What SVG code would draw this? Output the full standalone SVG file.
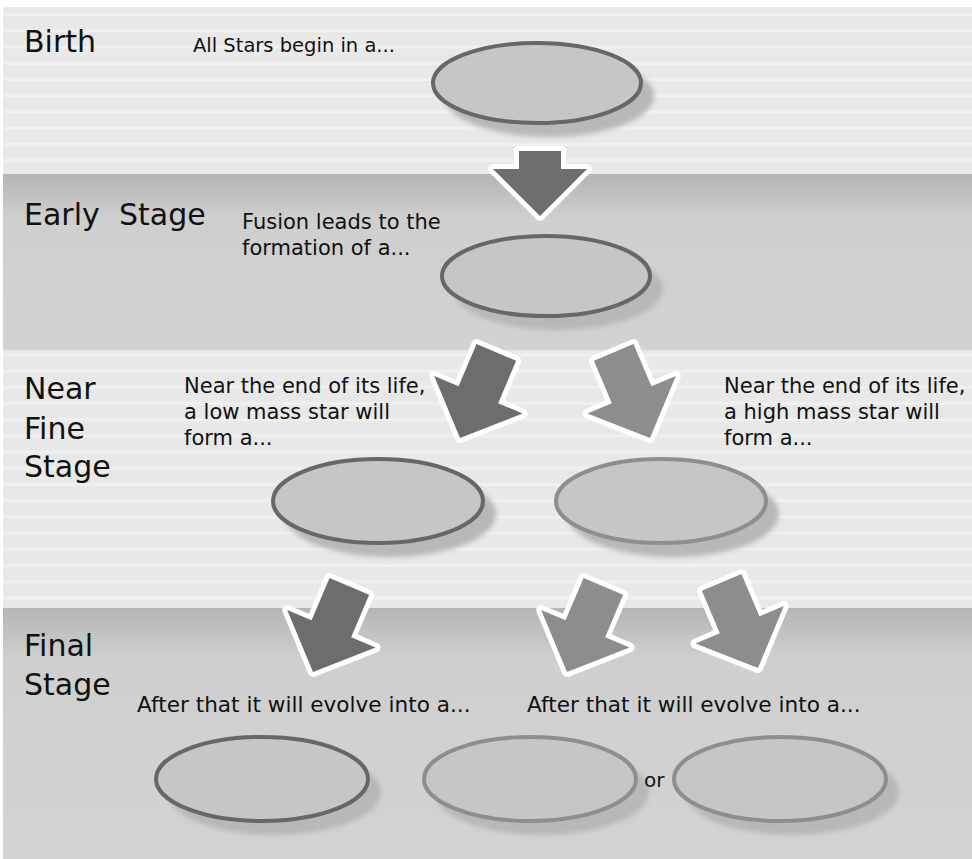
<svg xmlns="http://www.w3.org/2000/svg" xmlns:xlink="http://www.w3.org/1999/xlink" width="972" height="859" viewBox="0 0 972 859">
  <style>
    .head { font-family: "DejaVu Sans", Verdana, sans-serif; font-size: 30px; fill: #111; }
    .lbl { font-family: "DejaVu Sans", Verdana, sans-serif; font-size: 21px; fill: #111; }
    .node { fill: #c6c6c6; stroke-width: 4; }
    .dark { stroke: #676767; }
    .light { stroke: #8e8e8e; }
    .shadow { fill: #b8b8b8; filter: url(#blur); }
    .arr { stroke: #ffffff; stroke-width: 10; stroke-linejoin: round; paint-order: stroke fill; }
    .adark { fill: #6d6d6d; }
    .alight { fill: #8d8d8d; }
  </style>
  <defs>
    <pattern id="stripes" patternUnits="userSpaceOnUse" x="0" y="0" width="20" height="16.2">
      <rect width="20" height="16.2" fill="#e8e8e8"/>
      <rect y="13" width="20" height="3.5" fill="#f0f0f0"/>
    </pattern>
    <linearGradient id="g2" x1="0" y1="0" x2="0" y2="1" gradientUnits="objectBoundingBox">
      <stop offset="0" stop-color="#b5b5b5"/>
      <stop offset="0.25" stop-color="#cfcfcf"/>
      <stop offset="1" stop-color="#d2d2d2"/>
    </linearGradient>
    <linearGradient id="g4" x1="0" y1="0" x2="0" y2="1" gradientUnits="objectBoundingBox">
      <stop offset="0" stop-color="#b5b5b5"/>
      <stop offset="0.2" stop-color="#cfcfcf"/>
      <stop offset="1" stop-color="#d3d3d3"/>
    </linearGradient>
    <filter id="blur" x="-20%" y="-20%" width="140%" height="140%">
      <feGaussianBlur stdDeviation="2.5"/>
    </filter>
    <path id="downArrow" d="M0,0 L-47,-47 L-21,-47 L-21,-65 L21,-65 L21,-47 L47,-47 Z"/>
    <path id="diagArrow" d="M0,0 L-48,-47 L-21.5,-47 L-21.5,-93 L21.5,-93 L21.5,-47 L48,-47 Z"/>
  </defs>

  <!-- background bands -->
  <rect width="972" height="859" fill="#ffffff"/>
  <rect x="3" y="7" width="969" height="167" fill="url(#stripes)"/>
  <rect x="3" y="174" width="969" height="176" fill="url(#g2)"/>
  <rect x="3" y="350" width="969" height="258" fill="url(#stripes)"/>
  <rect x="3" y="608" width="969" height="251" fill="url(#g4)"/>

  <!-- stage headings -->
  <g id="stage-birth"><text class="head" x="24" y="52">Birth</text></g>
  <g id="stage-early"><text class="head" x="24" y="225">Early<tspan x="119">Stage</tspan></text></g>
  <g id="stage-near">
    <text class="head" x="24" y="399">Near</text>
    <text class="head" x="24" y="439">Fine</text>
    <text class="head" x="24" y="477">Stage</text>
  </g>
  <g id="stage-final">
    <text class="head" x="24" y="656">Final</text>
    <text class="head" x="24" y="695">Stage</text>
  </g>

  <!-- connectors -->
  <g id="connectors">
    <use xlink:href="#downArrow" class="arr adark" transform="translate(540,216)"/>
    <use xlink:href="#diagArrow" class="arr adark" transform="translate(460,438) rotate(23)"/>
    <use xlink:href="#diagArrow" class="arr alight" transform="translate(650,438) rotate(-23)"/>
    <use xlink:href="#diagArrow" class="arr adark" transform="translate(313,672) rotate(23)"/>
    <use xlink:href="#diagArrow" class="arr alight" transform="translate(567,672) rotate(23)"/>
    <use xlink:href="#diagArrow" class="arr alight" transform="translate(758,668) rotate(-23)"/>
  </g>

  <!-- nodes -->
  <g id="node-birth">
    <text class="lbl" x="193" y="52" style="font-size:19.5px">All Stars begin in a...</text>
    <ellipse class="shadow" cx="549" cy="96" rx="105" ry="41"/>
    <ellipse class="node dark" cx="537" cy="83" rx="104" ry="40"/>
  </g>
  <g id="node-early">
    <text class="lbl" x="242" y="229">Fusion leads to the</text>
    <text class="lbl" x="242" y="255">formation of a...</text>
    <ellipse class="shadow" cx="558" cy="289" rx="105" ry="41"/>
    <ellipse class="node dark" cx="546" cy="276" rx="104" ry="40"/>
  </g>
  <g id="node-low-mass">
    <text class="lbl" x="184" y="393">Near the end of its life,</text>
    <text class="lbl" x="184" y="419">a low mass star will</text>
    <text class="lbl" x="184" y="445">form a...</text>
    <ellipse class="shadow" cx="390" cy="514" rx="106" ry="43"/>
    <ellipse class="node dark" cx="378" cy="501" rx="105" ry="42"/>
  </g>
  <g id="node-high-mass">
    <text class="lbl" x="724" y="393">Near the end of its life,</text>
    <text class="lbl" x="724" y="419">a high mass star will</text>
    <text class="lbl" x="724" y="445">form a...</text>
    <ellipse class="shadow" cx="673" cy="514" rx="106" ry="43"/>
    <ellipse class="node light" cx="661" cy="501" rx="105" ry="42"/>
  </g>
  <g id="node-final-low">
    <text class="lbl" x="137" y="712" style="font-size:21.6px">After that it will evolve into a...</text>
    <ellipse class="shadow" cx="274" cy="792" rx="107" ry="43"/>
    <ellipse class="node dark" cx="262" cy="779" rx="106" ry="42"/>
  </g>
  <g id="node-final-high-a">
    <text class="lbl" x="527" y="712" style="font-size:21.6px">After that it will evolve into a...</text>
    <ellipse class="shadow" cx="542" cy="792" rx="107" ry="43"/>
    <ellipse class="node light" cx="530" cy="779" rx="106" ry="42"/>
  </g>
  <g id="or-label"><text class="lbl" x="644" y="787" style="font-size:20px">or</text></g>
  <g id="node-final-high-b">
    <ellipse class="shadow" cx="792" cy="792" rx="107" ry="43"/>
    <ellipse class="node light" cx="780" cy="779" rx="106" ry="42"/>
  </g>
</svg>
